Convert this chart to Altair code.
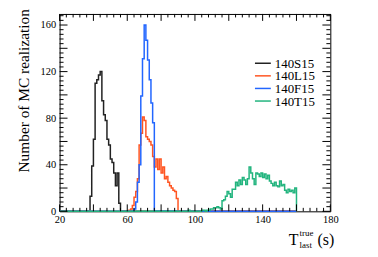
import altair as alt
import pandas as pd

# ---------------- data ----------------
series_names = ["140S15", "140L15", "140F15", "140T15"]
series_colors = ["#222222", "#ff5522", "#2266ff", "#22b47e"]

hist_low = 20
hist_high = 160

S15_start = 38
S15_counts = [13, 39, 62, 110, 113, 117, 120, 95, 83, 78, 62, 57, 45, 42, 33, 22, 33, 7]

L15_start = 61
L15_counts = [1, 2, 5, 12, 17, 28, 57, 67, 81, 78, 64, 62, 60, 57, 47, 38, 45, 36, 45,
              33, 38, 28, 30, 25, 22, 20, 18, 17, 11]

F15_start = 64
F15_counts = [2, 8, 25, 40, 99, 131, 160, 147, 130, 113, 93, 76]

T15_start = 96
T15_counts = [1, 0, 0, 0, 0, 0, 0, 0, 1, 1, 0, 1, 1, 2, 2, 3, 3, 4, 3, 2, 9, 10, 13, 17,
              15, 12, 19, 19, 25, 22, 27, 23, 29, 27, 23, 28, 38, 33, 28, 23, 33, 32, 30,
              33, 29, 32, 28, 31, 26, 24, 22, 25, 22, 21, 26, 22, 23, 18, 16, 19, 17, 18,
              16, 20]

x_major = [20, 40, 60, 80, 100, 120, 140, 160, 180]
y_major = [0, 20, 40, 60, 80, 100, 120, 140, 160]
x_minor = [v for v in range(20, 181, 4) if v not in x_major]
y_minor = [v for v in range(0, 169, 4) if v not in y_major]

# ---------------- build tables ----------------
rows = []
order = 0
for name, start, counts in zip(series_names,
                               [S15_start, L15_start, F15_start, T15_start],
                               [S15_counts, L15_counts, F15_counts, T15_counts]):
    for edge in range(hist_low, hist_high + 1):
        if edge == hist_high:
            v = 0
        elif start <= edge < start + len(counts):
            v = counts[edge - start]
        else:
            v = 0
        rows.append({"series": name, "x": edge, "y": v, "ord": order})
    order += 1
df = pd.DataFrame(rows)

W, H = 273, 199
FONT = "'Liberation Serif', 'Times New Roman', serif"
xscale = alt.Scale(domain=[20, 180], nice=False, zero=False)
yscale = alt.Scale(domain=[0, 169.5], nice=False)
cscale = alt.Scale(domain=series_names, range=series_colors)

hist = alt.Chart(df).mark_line(interpolate="step-after", strokeWidth=1.5).encode(
    x=alt.X("x:Q", scale=xscale,
            axis=alt.Axis(values=x_major, title=None, grid=False, domain=False,
                          ticks=False, labelFont=FONT, labelFontSize=10.5,
                          labelColor="black", labelPadding=3, labelFlush=False)),
    y=alt.Y("y:Q", scale=yscale,
            axis=alt.Axis(values=y_major, title="Number of MC realization", grid=False,
                          domain=False, ticks=False, labelFont=FONT, labelFontSize=10.5,
                          labelColor="black", labelPadding=4,
                          titleFont=FONT, titleFontSize=15.5, titleFontWeight="normal",
                          titleColor="black", titleX=-36, titleY=77, titleAngle=-90,
                          titleAlign="center", titleBaseline="middle")),
    color=alt.Color("series:N", scale=cscale, legend=None),
    order="ord:Q",
    detail="series:N",
)

xt_major = pd.DataFrame({"v": x_major})
xt_minor = pd.DataFrame({"v": x_minor})
yt_major = pd.DataFrame({"v": y_major})
yt_minor = pd.DataFrame({"v": y_minor})


def xticks(d, L):
    b = alt.Chart(d).mark_rule(color="black", strokeWidth=1).encode(
        x=alt.X("v:Q", scale=xscale))
    return [b.encode(y=alt.value(H), y2=alt.value(H - L)),
            b.encode(y=alt.value(0), y2=alt.value(L))]


def yticks(d, L):
    b = alt.Chart(d).mark_rule(color="black", strokeWidth=1).encode(
        y=alt.Y("v:Q", scale=yscale))
    return [b.encode(x=alt.value(0), x2=alt.value(L)),
            b.encode(x=alt.value(W), x2=alt.value(W - L))]


ticks = xticks(xt_major, 7) + xticks(xt_minor, 3.5) + yticks(yt_major, 8) + yticks(yt_minor, 4)

# ---------------- legend (manual, ROOT style) ----------------
leg_layers = []
LEG_Y0, LEG_DY = 49.7, 12.7
for i, (name, col) in enumerate(zip(series_names, series_colors)):
    ldf = pd.DataFrame({"series": [name]})
    yy = LEG_Y0 + LEG_DY * i
    leg_layers.append(
        alt.Chart(ldf).mark_rule(color=col, strokeWidth=1.5).encode(
            x=alt.value(197), x2=alt.value(213), y=alt.value(yy)))
    leg_layers.append(
        alt.Chart(ldf).mark_text(font=FONT, fontSize=13, align="left", baseline="middle",
                                 color="black").encode(
            x=alt.value(217), y=alt.value(yy + 0.5), text="series:N"))

tdf = pd.DataFrame({"a": [0]})
t_main = alt.Chart(tdf).mark_text(font=FONT, fontSize=16, align="left", baseline="alphabetic",
                                  color="black").encode(x=alt.value(231), y=alt.value(233),
                                                        text=alt.value("T"))
t_sup = alt.Chart(tdf).mark_text(font=FONT, fontSize=9, align="left", baseline="alphabetic",
                                 color="black").encode(x=alt.value(242), y=alt.value(224),
                                                       text=alt.value("true"))
t_sub = alt.Chart(tdf).mark_text(font=FONT, fontSize=9, align="left", baseline="alphabetic",
                                 color="black").encode(x=alt.value(242), y=alt.value(236),
                                                       text=alt.value("last"))
t_unit = alt.Chart(tdf).mark_text(font=FONT, fontSize=16, align="left", baseline="alphabetic",
                                  color="black").encode(x=alt.value(260), y=alt.value(233),
                                                        text=alt.value("(s)"))

chart = alt.layer(hist, *ticks, *leg_layers, t_main, t_sup, t_sub, t_unit).properties(
    width=W, height=H,
    background="white",
    autosize=alt.AutoSizeParams(type="none"),
    padding={"left": 52, "top": 5, "right": 40, "bottom": 40},
).configure_view(stroke="black", strokeWidth=1)

chart.save("out.html", embed_options={"renderer": "svg", "actions": False})
